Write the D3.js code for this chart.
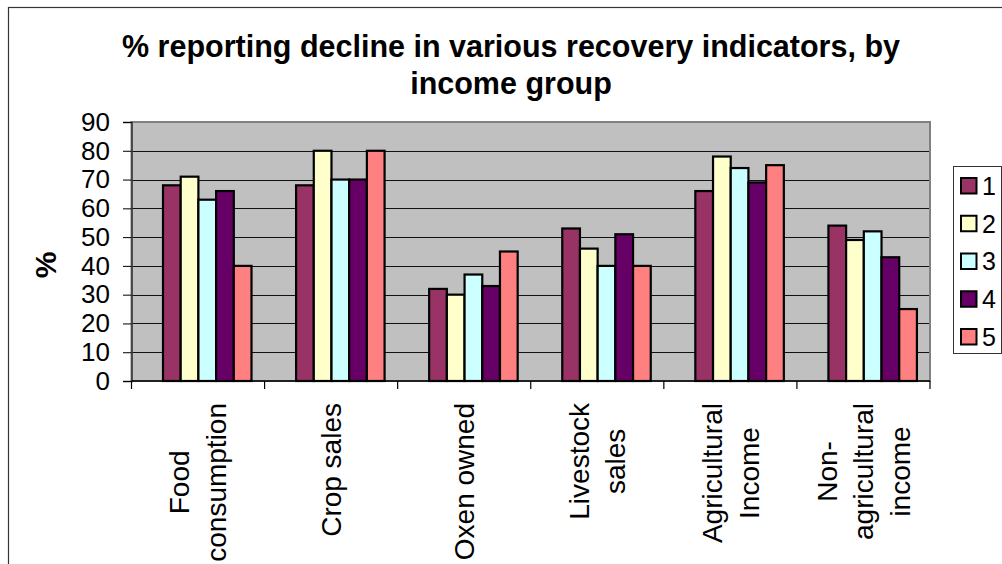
<!DOCTYPE html>
<html>
<head>
<meta charset="utf-8">
<script src="https://cdn.jsdelivr.net/npm/d3@7"></script>
<style>
  body { margin: 0; background: #fff; }
  svg { display: block; font-family: "Liberation Sans", Arial, sans-serif; }
</style>
</head>
<body>
<div id="chart"></div>
<script>
// chart values
var categories = ["Food consumption", "Crop sales", "Oxen owned", "Livestock sales", "Agricultural Income", "Non-agricultural income"];
var categoryLines = [["Food", "consumption"], ["Crop sales"], ["Oxen owned"], ["Livestock", "sales"], ["Agricultural", "Income"], ["Non-", "agricultural", "income"]];
var seriesNames = ["1", "2", "3", "4", "5"];
var group1 = [68, 68, 32, 53, 66, 54];
var group2 = [71, 80, 30, 46, 78, 49];
var group3 = [63, 70, 37, 40, 74, 52];
var group4 = [66, 70, 33, 51, 69, 43];
var group5 = [40, 80, 45, 40, 75, 25];
var yTicks = [0, 10, 20, 30, 40, 50, 60, 70, 80, 90];

var seriesValues = [group1, group2, group3, group4, group5];
var colors = ["#993366", "#FFFFCC", "#CCFFFF", "#660066", "#FF8080"];

var w = 1002, h = 564;
var plotL = 131.5, plotR = 930, plotT = 122, plotB = 381;

var svg = d3.select("#chart").append("svg")
    .attr("width", w)
    .attr("height", h);

// outer chart frame (runs off the right and bottom of the picture)
svg.append("rect")
    .attr("x", 8.5).attr("y", 7.5)
    .attr("width", 1100).attr("height", 700)
    .attr("fill", "none")
    .attr("stroke", "#333")
    .attr("stroke-width", 1.2);

// title
var title = svg.append("text")
    .attr("text-anchor", "middle")
    .style("font-weight", "bold")
    .style("font-size", "30.5px");
title.append("tspan").attr("x", 511).attr("y", 57).text("% reporting decline in various recovery indicators, by");
title.append("tspan").attr("x", 511).attr("y", 93.5).text("income group");

var x0 = d3.scaleBand().domain(categories).range([plotL, plotR]);
// bars sit off-centre inside each category slot, as in the source
var x1 = d3.scaleBand().domain(seriesNames).range([31.5, 120]);
var y = d3.scaleLinear().domain([0, 90]).range([plotB, plotT]);

// plot background
svg.append("rect")
    .attr("x", plotL).attr("y", plotT)
    .attr("width", plotR - plotL).attr("height", plotB - plotT)
    .attr("fill", "#C0C0C0");

// gridlines
svg.append("g").selectAll("line")
    .data(yTicks.filter(d => d > 0 && d < 90))
    .enter().append("line")
    .attr("x1", plotL).attr("x2", plotR)
    .attr("y1", d => Math.round(y(d)) + 0.5).attr("y2", d => Math.round(y(d)) + 0.5)
    .attr("stroke", "#111")
    .attr("stroke-width", 1.2);

// plot border
svg.append("rect")
    .attr("x", plotL).attr("y", plotT)
    .attr("width", plotR - plotL).attr("height", plotB - plotT)
    .attr("fill", "none")
    .attr("stroke", "#808080")
    .attr("stroke-width", 2);

// bars
var groups = svg.append("g").selectAll("g")
    .data(seriesNames)
    .enter().append("g")
    .attr("fill", (d, i) => colors[i]);

groups.selectAll("rect")
    .data((s, i) => seriesValues[i].map((v, j) => ({ s: s, cat: categories[j], v: v })))
    .enter().append("rect")
    .attr("x", d => x0(d.cat) + x1(d.s))
    .attr("y", d => y(d.v))
    .attr("width", x1.bandwidth())
    .attr("height", d => y(0) - y(d.v))
    .attr("stroke", "#000")
    .attr("stroke-width", 2.2);

// y axis
var yAxis = svg.append("g")
    .attr("transform", `translate(${plotL},0)`)
    .call(d3.axisLeft(y).tickValues(yTicks).tickSize(8.5).tickPadding(13));
yAxis.select(".domain").attr("stroke", "#333").attr("stroke-width", 1.5);
yAxis.selectAll(".tick line").attr("stroke", "#000");
yAxis.selectAll(".tick text")
    .style("font-size", "26px")
    .style("font-family", "'Liberation Sans', Arial, sans-serif")
    .attr("fill", "#000");

// x axis line and boundary ticks
svg.append("line")
    .attr("x1", plotL).attr("x2", plotR)
    .attr("y1", plotB).attr("y2", plotB)
    .attr("stroke", "#000").attr("stroke-width", 1.5);
var bounds = categories.map(c => x0(c)).concat([plotR]);
svg.append("g").selectAll("line")
    .data(bounds)
    .enter().append("line")
    .attr("x1", d => d).attr("x2", d => d)
    .attr("y1", plotB).attr("y2", plotB + 8)
    .attr("stroke", "#000").attr("stroke-width", 1.2);

// category labels, rotated, lines centred on each other
var lineGap = 36.7;
categories.forEach((c, i) => {
    var lines = categoryLines[i];
    var g = svg.append("g")
        .attr("transform", `translate(${x0(c) + x0.bandwidth() / 2},403) rotate(-90)`);
    var texts = g.selectAll("text")
        .data(lines)
        .enter().append("text")
        .attr("text-anchor", "middle")
        .attr("y", (d, k) => (k - (lines.length - 1) / 2) * lineGap)
        .attr("dy", "0.35em")
        .style("font-size", "28px")
        .text(d => d);
    var maxW = d3.max(texts.nodes(), n => n.getComputedTextLength());
    texts.attr("x", -maxW / 2);
});

// y axis title
svg.append("text")
    .attr("transform", "translate(45,265) rotate(-90)")
    .attr("text-anchor", "middle")
    .attr("dy", "0.35em")
    .style("font-weight", "bold")
    .style("font-size", "30px")
    .text("%");

// legend
svg.append("rect")
    .attr("x", 953.5).attr("y", 166.5)
    .attr("width", 48).attr("height", 187)
    .attr("fill", "#fff")
    .attr("stroke", "#333").attr("stroke-width", 1);

var legendY = d3.scalePoint().domain(seriesNames).range([186, 337]);
var items = svg.append("g").selectAll("g")
    .data(seriesNames)
    .enter().append("g")
    .attr("transform", d => `translate(0,${legendY(d)})`);
items.append("rect")
    .attr("x", 961).attr("y", -8)
    .attr("width", 15.5).attr("height", 15.5)
    .attr("fill", (d, i) => colors[i])
    .attr("stroke", "#000").attr("stroke-width", 2);
items.append("text")
    .attr("x", 982).attr("dy", "0.35em")
    .style("font-size", "25px")
    .text(d => d);
</script>
</body>
</html>
